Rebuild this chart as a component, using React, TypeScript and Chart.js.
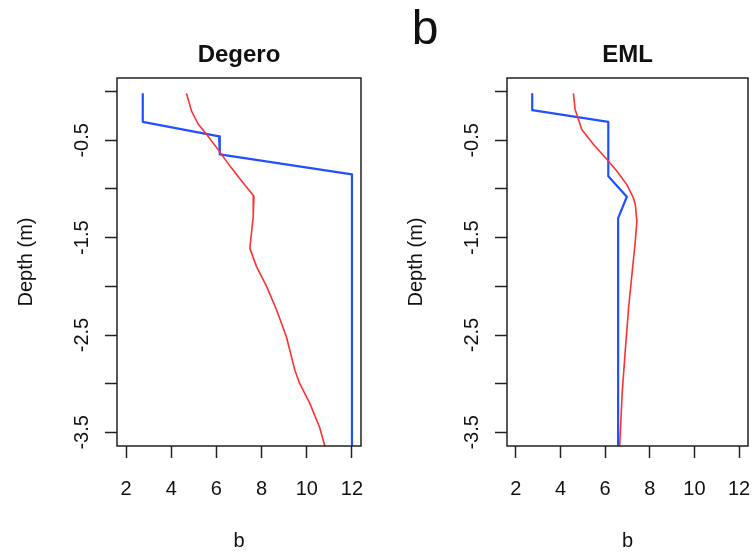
import React, { useEffect, useRef } from 'react';
import { Chart, registerables } from 'chart.js';

Chart.register(...registerables);

// ---------- data ----------
const mainTitle = 'b';
const panelTitles = ['Degero', 'EML'];
const xAxisTitle = 'b';
const yAxisTitle = 'Depth (m)';

const xTickValues = [2, 4, 6, 8, 10, 12];
const yTickValues = [0, -0.5, -1, -1.5, -2, -2.5, -3, -3.5];
const yLabelValues = [-0.5, -1.5, -2.5, -3.5];
const yTickLabels = ['-0.5', '-1.5', '-2.5', '-3.5'];
const xRange = [1.6, 12.4];
const yRange = [-3.64, 0.14];

// Degero – blue profile
const degeroBlueB = [2.74, 2.74, 6.12, 6.15, 12.0, 12.0];
const degeroBlueDepth = [-0.025, -0.31, -0.46, -0.645, -0.85, -3.64];
// Degero – red profile
const degeroRedB = [4.68, 4.9, 5.2, 5.57, 6.01, 6.6, 7.18, 7.66, 7.63, 7.48, 7.78, 8.22, 8.66, 9.1, 9.47, 9.69, 10.13, 10.57, 10.8];
const degeroRedDepth = [-0.025, -0.2, -0.335, -0.44, -0.575, -0.765, -0.935, -1.075, -1.28, -1.61, -1.8, -2.0, -2.24, -2.52, -2.86, -3.0, -3.2, -3.45, -3.64];

// EML – blue profile
const emlBlueB = [2.73, 2.73, 6.14, 6.14, 6.97, 6.58, 6.58];
const emlBlueDepth = [-0.025, -0.19, -0.31, -0.87, -1.08, -1.3, -3.64];
// EML – red profile
const emlRedB = [4.58, 4.65, 4.95, 5.47, 6.07, 6.52, 6.97, 7.26, 7.35, 7.42, 7.35, 7.2, 7.05, 6.9, 6.76, 6.65];
const emlRedDepth = [-0.025, -0.18, -0.39, -0.54, -0.695, -0.815, -0.955, -1.09, -1.16, -1.33, -1.535, -1.875, -2.22, -2.66, -3.1, -3.64];

const FONT = '"Liberation Sans", Arial, Helvetica, sans-serif';
const BLUE = '#2050ff';
const RED = '#ff3030';
const INK = '#111111';

type PanelProps = {
  title: string;
  blueB: number[];
  blueD: number[];
  redB: number[];
  redD: number[];
  left: number;
  width: number;
  padRight: number;
};

function Panel({ title, blueB, blueD, redB, redD, left, width, padRight }: PanelProps) {
  const ref = useRef<HTMLCanvasElement | null>(null);

  useEffect(() => {
    if (!ref.current) return;
    const decor = {
      id: 'decor',
      afterDraw(chart: any) {
        const { ctx, chartArea: a, scales } = chart;
        ctx.save();
        ctx.strokeStyle = '#222';
        ctx.lineWidth = 1.5;
        ctx.strokeRect(a.left, a.top, a.right - a.left, a.bottom - a.top);
        ctx.fillStyle = INK;
        ctx.font = `bold 24px ${FONT}`;
        ctx.textAlign = 'center';
        ctx.textBaseline = 'alphabetic';
        ctx.fillText(title, (a.left + a.right) / 2, 62);
        ctx.font = `20px ${FONT}`;
        yLabelValues.forEach((v, i) => {
          const y = scales.y.getPixelForValue(v);
          ctx.save();
          ctx.translate(a.left - 29, y);
          ctx.rotate(-Math.PI / 2);
          ctx.fillText(yTickLabels[i], 0, 0);
          ctx.restore();
        });
        ctx.restore();
      },
    };

    const tickGrid = {
      drawOnChartArea: false,
      drawTicks: true,
      tickLength: 12,
      tickColor: '#222',
      tickWidth: 1.5,
    };

    const chart = new Chart(ref.current, {
      type: 'scatter',
      data: {
        datasets: [
          {
            data: redB.map((b, i) => ({ x: b, y: redD[i] })),
            showLine: true,
            borderColor: RED,
            backgroundColor: RED,
            borderWidth: 1.6,
            pointRadius: 0,
            tension: 0,
            order: 0,
            borderJoinStyle: 'round',
            borderCapStyle: 'round',
          },
          {
            data: blueB.map((b, i) => ({ x: b, y: blueD[i] })),
            showLine: true,
            borderColor: BLUE,
            backgroundColor: BLUE,
            borderWidth: 2.2,
            pointRadius: 0,
            tension: 0,
            order: 1,
            borderJoinStyle: 'round',
            borderCapStyle: 'round',
          },
        ],
      },
      options: {
        animation: false,
        responsive: false,
        devicePixelRatio: 1,
        layout: { padding: { top: 78, left: 0, right: padRight, bottom: 0 } },
        plugins: {
          legend: { display: false },
          tooltip: { enabled: false },
          title: { display: false },
        },
        scales: {
          x: {
            type: 'linear',
            position: 'bottom',
            min: xRange[0],
            max: xRange[1],
            afterBuildTicks: (s: any) => {
              s.ticks = xTickValues.map((v) => ({ value: v }));
            },
            afterFit: (s: any) => {
              s.height = 106;
              s.paddingLeft = 0;
              s.paddingRight = 0;
            },
            grid: tickGrid,
            border: { display: false },
            ticks: {
              font: { family: FONT, size: 20, lineHeight: 1.2 },
              color: INK,
              padding: 19,
              maxRotation: 0,
              minRotation: 0,
              autoSkip: false,
            },
            title: {
              display: true,
              text: xAxisTitle,
              color: INK,
              font: { family: FONT, size: 20, lineHeight: 1 },
              padding: { top: 0, bottom: 0.5 },
            },
          },
          y: {
            type: 'linear',
            position: 'left',
            min: yRange[0],
            max: yRange[1],
            afterBuildTicks: (s: any) => {
              s.ticks = yTickValues.map((v) => ({ value: v }));
            },
            afterFit: (s: any) => {
              s.width = 117;
              s.paddingTop = 0;
              s.paddingBottom = 0;
            },
            grid: tickGrid,
            border: { display: false },
            ticks: { display: false },
            title: {
              display: true,
              text: yAxisTitle,
              color: INK,
              font: { family: FONT, size: 20, lineHeight: 1 },
              padding: { top: 16, bottom: 0 },
            },
          },
        },
      } as any,
      plugins: [decor],
    });
    return () => chart.destroy();
  }, []);

  return (
    <canvas
      ref={ref}
      width={width}
      height={552}
      style={{ position: 'absolute', left, top: 0, width, height: 552 }}
    />
  );
}

export default function App() {
  return (
    <div
      style={{
        position: 'absolute',
        left: 0,
        top: 0,
        width: 754,
        height: 552,
        background: '#ffffff',
        overflow: 'hidden',
      }}
    >
      <Panel
        title={panelTitles[0]}
        blueB={degeroBlueB}
        blueD={degeroBlueDepth}
        redB={degeroRedB}
        redD={degeroRedDepth}
        left={0}
        width={380}
        padRight={19}
      />
      <Panel
        title={panelTitles[1]}
        blueB={emlBlueB}
        blueD={emlBlueDepth}
        redB={emlRedB}
        redD={emlRedDepth}
        left={390}
        width={364}
        padRight={6}
      />
      <div
        style={{
          position: 'absolute',
          left: 375,
          top: 4,
          width: 100,
          textAlign: 'center',
          fontFamily: FONT,
          fontSize: 48,
          lineHeight: '48px',
          color: INK,
        }}
      >
        {mainTitle}
      </div>
    </div>
  );
}
